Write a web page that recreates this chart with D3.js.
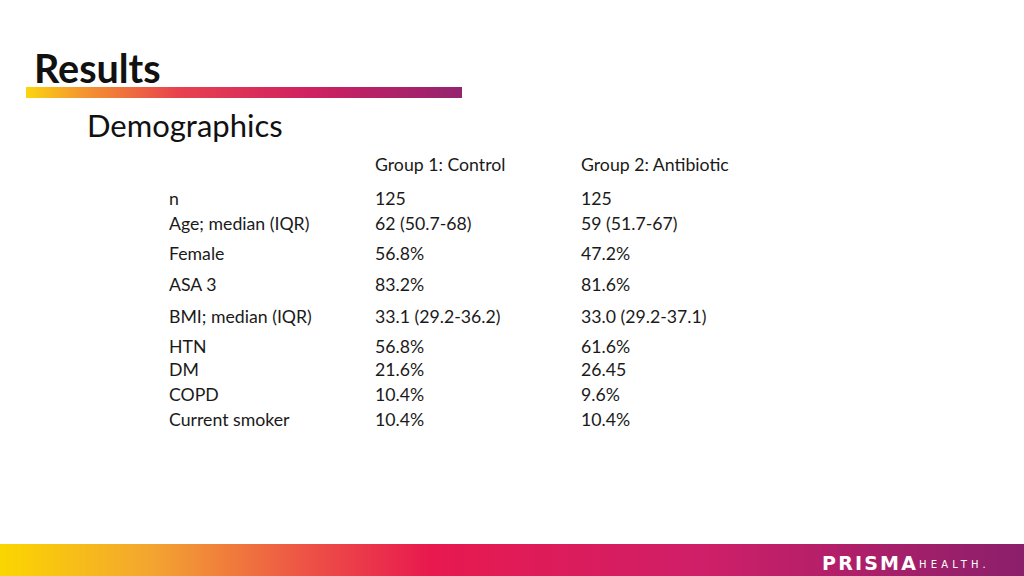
<!DOCTYPE html>
<html><head><meta charset="utf-8">
<script src="https://cdn.jsdelivr.net/npm/d3@7"></script>
<style>html,body{margin:0;padding:0;background:#fff;overflow:hidden}</style>
</head><body>
<svg id="c" width="1024" height="576"></svg>
<script>
const title = "Results";
const subtitle = "Demographics";
const headers = ["Group 1: Control", "Group 2: Antibiotic"];
const rowLabels = ["n", "Age; median (IQR)", "Female", "ASA 3", "BMI; median (IQR)", "HTN", "DM", "COPD", "Current smoker"];
const group1 = ["125", "62 (50.7-68)", "56.8%", "83.2%", "33.1 (29.2-36.2)", "56.8%", "21.6%", "10.4%", "10.4%"];
const group2 = ["125", "59 (51.7-67)", "47.2%", "81.6%", "33.0 (29.2-37.1)", "61.6%", "26.45", "9.6%", "10.4%"];

// layout
const rowY = [199, 224, 254, 285, 317, 347, 370, 395, 420];
const colX = [169, 375, 581];
const font = "Lato, 'Noto Sans', sans-serif";

const svg = d3.select("#c");
const defs = svg.append("defs");
const g1 = defs.append("linearGradient").attr("id","bar1");
[["0%","#fbd510"],["12%","#f59a2e"],["35%","#e8414f"],["65%","#cf2161"],["100%","#94236f"]]
  .forEach(s=>g1.append("stop").attr("offset",s[0]).attr("stop-color",s[1]));
const g2 = defs.append("linearGradient").attr("id","bar2");
[["0%","#fbd600"],["15%","#f3a431"],["30%","#ed5246"],["42%","#e8194f"],["68%","#d01f68"],["100%","#8b1f6b"]]
  .forEach(s=>g2.append("stop").attr("offset",s[0]).attr("stop-color",s[1]));

svg.append("text").attr("x",34).attr("y",83).attr("font-family",font).attr("font-weight",700)
  .attr("font-size",39.5).attr("fill","#111").text(title);
svg.append("rect").attr("x",26).attr("y",87).attr("width",436).attr("height",11).attr("fill","url(#bar1)");
svg.append("text").attr("x",87).attr("y",137).attr("font-family",font)
  .attr("font-size",31).attr("fill","#111").text(subtitle);

const fs = 17.7;
svg.selectAll("text.hdr").data(headers).join("text").attr("class","hdr")
  .attr("x",(d,i)=>colX[i+1]).attr("y",171).attr("font-family",font).attr("font-size",fs)
  .attr("fill","#1a1a1a").text(d=>d);

const rows = rowLabels.map((l,i)=>[l, group1[i], group2[i]]);
const rg = svg.selectAll("g.row").data(rows).join("g").attr("class","row")
  .attr("transform",(d,i)=>`translate(0,${rowY[i]+6})`);
rg.selectAll("text").data(d=>d).join("text")
  .attr("x",(d,i)=>colX[i]).attr("y",0).attr("font-family",font).attr("font-size",fs)
  .attr("fill","#1a1a1a").text(d=>d);

svg.append("rect").attr("x",0).attr("y",544).attr("width",1024).attr("height",32).attr("fill","url(#bar2)");
svg.append("text").attr("x",822).attr("y",570).attr("font-family","'DejaVu Sans', sans-serif").attr("font-weight",700)
  .attr("font-size",19).attr("letter-spacing",2.2).attr("fill","#fff").text("PRISMA");
svg.append("text").attr("x",919).attr("y",568).attr("font-family","'DejaVu Sans', sans-serif")
  .attr("font-size",10).attr("letter-spacing",4.2).attr("fill","#fff").text("HEALTH.");
</script>
</body></html>
